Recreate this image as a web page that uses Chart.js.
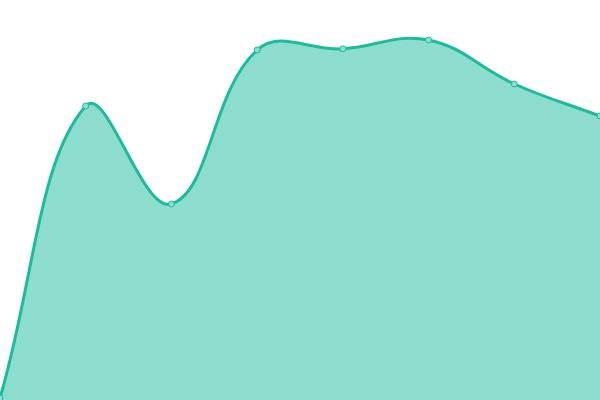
<!DOCTYPE html>
<html>
<head>
<meta charset="utf-8">
<style>
  html, body { margin: 0; padding: 0; background: #fff; }
  #wrap { width: 600px; height: 400px; }
</style>
</head>
<body>
<div id="wrap"><canvas id="area-canvas"></canvas></div>
<script src="https://cdn.jsdelivr.net/npm/chart.js@4/dist/chart.umd.min.js"></script>
<script>
  // Data
  let labels = ["1", "2", "3", "4", "5", "6", "7", "8"];
  let values = [0.5, 73.5, 49, 87.5, 87.8, 90, 79, 71];

  let ctx = document.getElementById("area-canvas").getContext("2d");
  let chart = new Chart(ctx, {
    type: 'line',
    data: {
      labels: labels,
      datasets: [{
        data: values,
        fill: 'origin',
        backgroundColor: "rgba(26, 188, 156, 0.5)",
        borderColor: "#1abc9c",
        borderWidth: 3,
        tension: 0.4,
        pointRadius: 3,
        pointBorderWidth: 1,
        pointBackgroundColor: "#8ae0cf",
        pointBorderColor: "#1abc9c"
      }]
    },
    options: {
      responsive: true,
      maintainAspectRatio: false,
      animation: false,
      layout: { padding: 0, autoPadding: false },
      plugins: {
        legend: { display: false },
        tooltip: { enabled: false }
      },
      scales: {
        x: { display: false, offset: false },
        y: { display: false, min: 0, max: 100 }
      }
    }
  });
</script>
</body>
</html>
